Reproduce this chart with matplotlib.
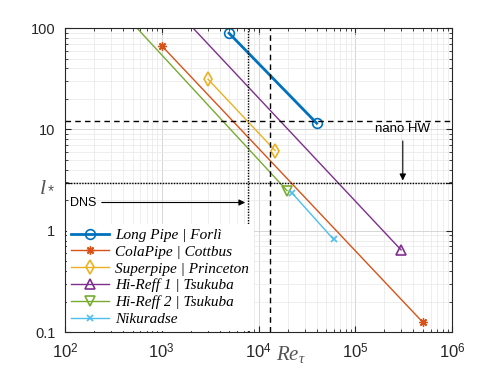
import matplotlib

matplotlib.use("Agg")
import matplotlib.pyplot as plt

# endpoints of each facility line: Re_tau and l* (viscous length)
labels = [
    "Long Pipe | Forlì",
    "ColaPipe | Cottbus",
    "Superpipe | Princeton",
    "Hi-Reff 1 | Tsukuba",
    "Hi-Reff 2 | Tsukuba",
    "Nikuradse",
]
re_tau = [
    [4960, 40000],
    [1006, 497000],
    [3007, 14830],
    [1050, 297000],
    [400, 19700],
    [22000, 59800],
]
l_star = [
    [89, 11.5],
    [66.4, 0.1256],
    [31.3, 6.19],
    [203, 0.648],
    [140, 2.49],
    [2.38, 0.82],
]
markers = ["o", (8, 2, 0), "d", "^", "v", "x"]
colors = ["#0072BD", "#D95319", "#EDB120", "#7E2F8E", "#77AC30", "#4DBEEE"]
widths = [2.0, 1.0, 1.0, 1.0, 1.0, 1.0]

l_star_line = 2.94
l_hw_line = 12
re_dns = 7780
re_hw = 13200

plt.rcParams["font.family"] = ["Liberation Sans", "DejaVu Sans"]
plt.rcParams["mathtext.fontset"] = "custom"
plt.rcParams["mathtext.rm"] = "Liberation Sans"
plt.rcParams["mathtext.it"] = "Liberation Serif:italic"
plt.rcParams["mathtext.bf"] = "Liberation Sans:bold"

fig = plt.figure(figsize=(5, 3.74), dpi=100)
ax = fig.add_axes([0.13, 0.112, 0.774, 0.813])

for x, y, lab, m, c, w in zip(re_tau, l_star, labels, markers, colors, widths):
    star = isinstance(m, tuple)
    ax.plot(x, y, color=c, lw=w, marker=m,
            ms=5 if m == "x" else (6 if star else 7),
            mfc=c if (star or m == "x") else "none", mec=c,
            mew=1.0 if star else 1.2, label=lab)

ax.axhline(l_hw_line, color="k", ls=(0, (4, 3)), lw=1)
ax.axhline(l_star_line, color="k", ls=(0, (1, 1)), lw=1)
ax.axvline(re_dns, color="k", ls=(0, (1, 1)), lw=1)
ax.axvline(re_hw, color="k", ls=(0, (4, 3)), lw=1)

ax.set_xscale("log")
ax.set_yscale("log")
ax.set_xlim(1e2, 1e6)
ax.set_ylim(0.1, 100)
ax.set_yticks([0.1, 1, l_star_line, 10, 100])
ax.set_yticklabels(["0.1", "1", "$l_*$", "10", "100"])
ax.set_xticks([1e2, 1e3, 1e4, 1e5, 1e6])
ax.set_xticklabels([r"$10^{%d}$" % k for k in range(2, 7)])
ax.yaxis.set_minor_formatter(matplotlib.ticker.NullFormatter())
ax.tick_params(which="both", direction="in", top=True, right=True,
               labelsize=10.5, colors="#262626")
ax.tick_params(which="major", length=4, pad=7)
ax.tick_params(which="minor", length=2)
for lab in ax.get_xticklabels():
    lab.set_fontsize(12)
for lab in ax.get_yticklabels():
    if lab.get_text() == "$l_*$":
        lab.set_fontsize(16)
        lab.set_color("#555555")
ax.grid(True, which="major", color="#d0d0d0", lw=0.6)
ax.grid(True, which="minor", color="#e8e8e8", lw=0.5)
for s in ax.spines.values():
    s.set_color("#262626")

ax.set_xlabel(r"$Re_\tau$", fontsize=15, color="#555555")
ax.xaxis.set_label_coords(0.585, -0.04)

ax.annotate("DNS", xy=(re_dns, 1.9), xytext=(112, 1.9), va="center",
            fontsize=9, arrowprops=dict(arrowstyle="-|>", color="k", lw=0.8))
ax.annotate("nano HW", xy=(3.1e5, l_star_line), xytext=(3.1e5, 10),
            ha="center", va="center", fontsize=9.5,
            arrowprops=dict(arrowstyle="-|>", color="k", lw=0.8))

leg = ax.legend(loc="lower left", frameon=True,
                prop={"family": "Liberation Serif", "style": "italic",
                      "size": 11},
                handlelength=2.5, borderaxespad=0.1, borderpad=0.3,
                labelspacing=0.2, handletextpad=0.4)
leg.get_frame().set_edgecolor("none")
leg.get_frame().set_alpha(1)

fig.savefig("out.png", dpi=100)
